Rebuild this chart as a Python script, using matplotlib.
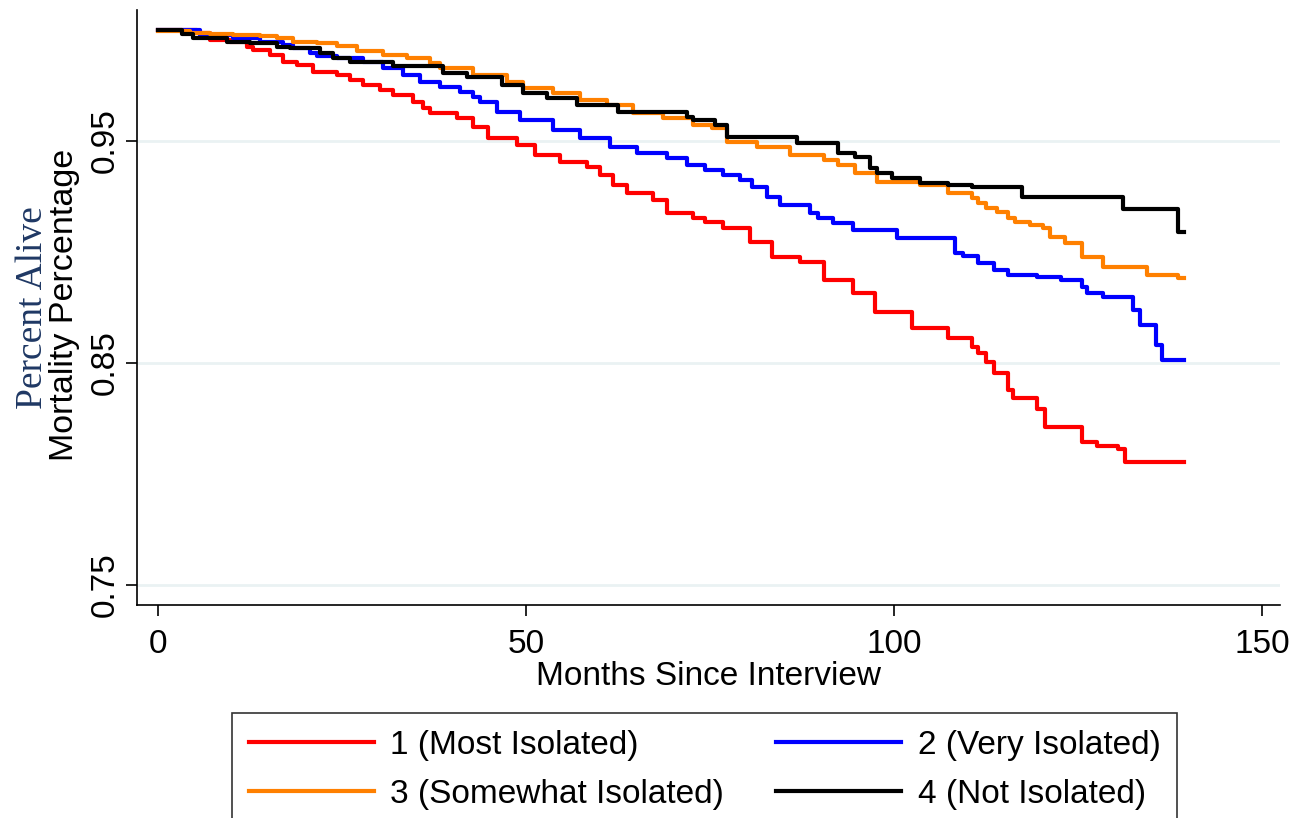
import numpy as np
import matplotlib
matplotlib.use('Agg')
import matplotlib.pyplot as plt

# Kaplan-Meier style step data: (months since interview, proportion alive)
months_1 = [0, 5.3, 7.1, 9.8, 12.1, 12.9, 15.2, 17.0, 18.9, 21.1, 24.3, 26.1, 27.9, 30.2, 31.9,
            34.6, 36.0, 37.0, 40.6, 42.8, 44.8, 48.8, 51.2, 54.6, 58.3, 60.1, 61.8, 63.7, 67.3,
            69.2, 72.7, 74.3, 76.8, 80.4, 83.4, 87.2, 90.4, 94.4, 97.4, 102.4, 107.3, 110.6,
            111.4, 112.4, 113.5, 115.4, 116.2, 119.4, 120.5, 125.5, 127.6, 130.4, 131.4, 139.3]
alive_1 = [1.0, 0.9986, 0.9955, 0.9946, 0.9923, 0.9910, 0.9887, 0.9856, 0.9842, 0.9811, 0.9797,
           0.9775, 0.9752, 0.9730, 0.9707, 0.9676, 0.9649, 0.9626, 0.9604, 0.9563, 0.9514,
           0.9482, 0.9437, 0.9405, 0.9383, 0.9347, 0.9302, 0.9266, 0.9234, 0.9176, 0.9153,
           0.9135, 0.9108, 0.9045, 0.8977, 0.8955, 0.8874, 0.8815, 0.8730, 0.8658, 0.8613,
           0.8572, 0.8545, 0.8505, 0.8455, 0.8378, 0.8342, 0.8293, 0.8212, 0.8144, 0.8126,
           0.8113, 0.8054, 0.8054]

months_2 = [0, 5.7, 10.2, 13.9, 17.0, 18.3, 20.7, 21.6, 24.3, 27.9, 30.6, 33.3, 35.6, 38.3, 41.0,
            42.8, 43.8, 46.1, 49.2, 53.7, 57.3, 61.4, 65.1, 69.2, 71.9, 74.3, 76.8, 79.1, 80.7,
            82.7, 84.5, 88.6, 89.7, 91.7, 94.4, 100.4, 108.3, 109.4, 111.4, 113.5, 115.4, 119.4,
            122.6, 125.5, 126.2, 128.4, 132.5, 133.4, 135.5, 136.4, 139.3]
alive_2 = [1.0, 0.9977, 0.9964, 0.9946, 0.9932, 0.9919, 0.9896, 0.9883, 0.9874, 0.9856, 0.9829,
           0.9797, 0.9766, 0.9743, 0.9721, 0.9698, 0.9676, 0.9631, 0.9595, 0.9550, 0.9514,
           0.9473, 0.9446, 0.9423, 0.9392, 0.9369, 0.9347, 0.9324, 0.9293, 0.9248, 0.9212,
           0.9176, 0.9153, 0.9131, 0.9099, 0.9063, 0.8995, 0.8982, 0.8950, 0.8919, 0.8896,
           0.8887, 0.8874, 0.8842, 0.8815, 0.8797, 0.8739, 0.8671, 0.8581, 0.8514, 0.8514]

months_3 = [0, 4.3, 7.1, 10.2, 13.9, 16.2, 18.3, 21.6, 24.3, 27.0, 30.6, 33.8, 37.0, 38.3, 42.8,
            47.4, 49.6, 53.7, 57.3, 61.0, 64.5, 68.6, 72.7, 75.3, 77.3, 81.4, 85.9, 90.4, 92.3,
            94.7, 97.7, 103.5, 107.3, 110.6, 111.4, 112.4, 114.0, 115.4, 116.4, 118.5, 120.2,
            121.2, 123.2, 125.5, 128.4, 134.4, 138.5, 139.3]
alive_3 = [0.9995, 0.9986, 0.9982, 0.9977, 0.9973, 0.9964, 0.9946, 0.9941, 0.9928, 0.9905,
           0.9887, 0.9874, 0.9851, 0.9829, 0.9797, 0.9766, 0.9739, 0.9716, 0.9685, 0.9662,
           0.9626, 0.9604, 0.9572, 0.9559, 0.9495, 0.9473, 0.9437, 0.9414, 0.9392, 0.9356,
           0.9315, 0.9302, 0.9266, 0.9243, 0.9221, 0.9198, 0.9180, 0.9153, 0.9135, 0.9122,
           0.9108, 0.9068, 0.9041, 0.8977, 0.8932, 0.8896, 0.8883, 0.8883]

months_4 = [0, 3.3, 4.8, 9.4, 12.5, 16.2, 17.9, 22.0, 23.8, 26.1, 31.9, 38.7, 42.0, 46.7, 49.6,
            52.9, 56.9, 62.5, 71.9, 72.7, 75.7, 77.3, 86.8, 92.4, 94.7, 96.7, 97.7, 99.7, 103.5,
            107.3, 110.6, 117.4, 131.1, 138.5, 139.3]
alive_4 = [1.0, 0.9982, 0.9964, 0.9946, 0.9941, 0.9923, 0.9919, 0.9896, 0.9874, 0.9856, 0.9838,
           0.9806, 0.9788, 0.9752, 0.9716, 0.9694, 0.9662, 0.9631, 0.9608, 0.9595, 0.9572,
           0.9518, 0.9491, 0.9446, 0.9428, 0.9378, 0.9356, 0.9333, 0.9311, 0.9302, 0.9293,
           0.9248, 0.9194, 0.9090, 0.9090]

labels = ['1 (Most Isolated)', '2 (Very Isolated)', '3 (Somewhat Isolated)', '4 (Not Isolated)']
colors = ['#ff0000', '#0000ff', '#ff8000', '#000000']
series = [(months_1, alive_1), (months_2, alive_2), (months_3, alive_3), (months_4, alive_4)]

xticks = [0, 50, 100, 150]
yticks = [0.75, 0.85, 0.95]

plt.rcParams['font.family'] = ['Liberation Sans', 'DejaVu Sans']

W, H = 1289, 818
fig = plt.figure(figsize=(W / 100, H / 100), dpi=100)
ax = fig.add_axes([137 / W, 1 - 605 / H, (1280 - 137) / W, (605 - 10) / H])

for y in yticks:
    ax.axhline(y, color='#eaf2f3', lw=2, zorder=0)

lines = []
for (m, a), c, lab in zip(series, colors, labels):
    ln, = ax.step(m, a, where='post', color=c, lw=3.0, label=lab)
    lines.append(ln)

ax.set_xlim(-2.85, 152.4)
ax.set_ylim(0.741, 1.009)
ax.set_xticks(xticks)
ax.set_yticks(yticks)
ax.set_yticklabels([f'{v:.2f}' for v in yticks], rotation=90, va='center')
ax.tick_params(axis='both', labelsize=24, length=8, width=1.2, color='black')
ax.tick_params(axis='x', pad=9)
ax.tick_params(axis='y', pad=4)
for s in ['top', 'right']:
    ax.spines[s].set_visible(False)
for s in ['left', 'bottom']:
    ax.spines[s].set_linewidth(1.2)

ax.set_xlabel('Months Since Interview', fontsize=24, labelpad=1)
fig.text(65 / W, 1 - 305 / H, 'Mortality Percentage', rotation=90, fontsize=24.5,
         ha='center', va='center')
fig.text(33 / W, 1 - 308 / H, 'Percent Alive', rotation=90, fontsize=27,
         family='Liberation Serif', color='#1f3864', ha='center', va='center')

# legend order matches reference: 1, 2 in first row; 3, 4 in second
order = [0, 2, 1, 3]
leg = fig.legend([lines[i] for i in order], [labels[i] for i in order],
                 loc='upper left', bbox_to_anchor=(232 / W, 1 - 713 / H),
                 ncol=2, fontsize=24, frameon=True, fancybox=False,
                 edgecolor='black', handlelength=3.75, handletextpad=0.5,
                 columnspacing=1.55, labelspacing=0.55, borderpad=0.5,
                 borderaxespad=0)
leg.get_frame().set_linewidth(1.2)

fig.savefig('out.png', dpi=100)
